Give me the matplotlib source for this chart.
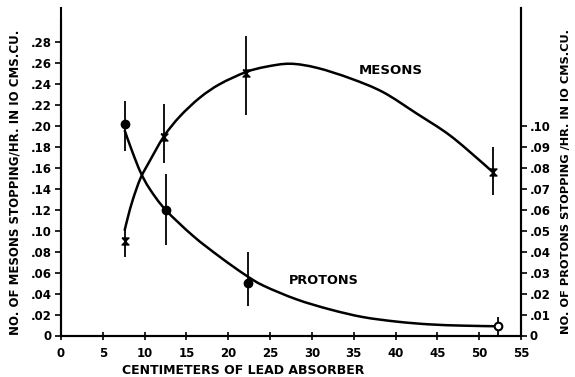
import matplotlib
matplotlib.use('Agg')
import matplotlib.pyplot as plt
from matplotlib.path import Path
from matplotlib.patches import PathPatch

plt.rcParams['font.family'] = ['DejaVu Sans']
plt.rcParams['font.weight'] = 'bold'

# measured points (mesons on left axis, protons on right axis)
meson_x = [7.7, 12.3, 22.1, 51.6]
meson_y = [0.090, 0.189, 0.251, 0.156]
meson_lo = [0.075, 0.1645, 0.210, 0.134]
meson_hi = [0.102, 0.221, 0.286, 0.180]

proton_x = [7.6, 12.5, 22.3, 52.3]
proton_y = [0.101, 0.060, 0.025, 0.0044]
proton_lo = [0.088, 0.043, 0.014, 0.0]
proton_hi = [0.112, 0.077, 0.040, 0.0087]

# hand drawn fitted curves
meson_curve_x = [7.6, 8.0, 8.6, 9.5, 10.5, 12.3, 14.2, 16.6, 19.0, 22.1, 24.5,
                 27.4, 30.6, 34.6, 38.5, 42.5, 46.5, 50.5, 51.6]
meson_curve_y = [0.100, 0.113, 0.130, 0.150, 0.165, 0.190, 0.209, 0.227, 0.240, 0.2514, 0.2565,
                 0.2594, 0.2555, 0.2454, 0.2323, 0.212, 0.191, 0.164, 0.156]

proton_curve_x = [7.6, 8.5, 9.5, 10.6, 12.5, 15.8, 19.0, 22.0, 24.2,
                  28.2, 32.2, 36.1, 40.2, 44.1, 48.1, 52.3]
proton_curve_y = [0.098, 0.088, 0.078, 0.070, 0.060, 0.0475, 0.0375, 0.0290, 0.0238,
                  0.0172, 0.0124, 0.0088, 0.0066, 0.0053, 0.0047, 0.0044]

x_ticks = list(range(0, 60, 5))
left_ticks = [i * 0.02 for i in range(15)]
left_labels = ['0'] + ['.%02d' % (2 * i) for i in range(1, 15)]
right_ticks = [i * 0.01 for i in range(11)]
right_labels = ['0'] + ['.%02d' % i for i in range(1, 11)]

hourglass = [(-1, 1), (1, 1), (-1, -1), (1, -1), (-1, 1)]


def smooth_path(xs, ys):
    # catmull-rom through the read points, drawn as bezier segments
    n = len(xs)
    verts = [(xs[0], ys[0])]
    codes = [Path.MOVETO]
    for i in range(n - 1):
        a = max(i - 1, 0)
        b = min(i + 2, n - 1)
        c1 = (xs[i] + (xs[i + 1] - xs[a]) / 6, ys[i] + (ys[i + 1] - ys[a]) / 6)
        c2 = (xs[i + 1] - (xs[b] - xs[i]) / 6, ys[i + 1] - (ys[b] - ys[i]) / 6)
        verts += [c1, c2, (xs[i + 1], ys[i + 1])]
        codes += [Path.CURVE4] * 3
    return Path(verts, codes)


fig = plt.figure(figsize=(5.75, 3.77), dpi=100)
ax = fig.add_axes([61 / 575, 41.5 / 377, 460 / 575, 327.5 / 377])
ax2 = ax.twinx()

ax.set_xlim(0, 55)
ax.set_ylim(0, 0.3126)
ax2.set_ylim(0, 0.1563)

# mesons
ax.add_patch(PathPatch(smooth_path(meson_curve_x, meson_curve_y), fill=False,
                       ec='black', lw=1.8))
ax.vlines(meson_x, meson_lo, meson_hi, color='black', lw=1.3)
ax.plot(meson_x, meson_y, ls='none', marker=hourglass, ms=5, color='black')

# protons
ax2.add_patch(PathPatch(smooth_path(proton_curve_x, proton_curve_y), fill=False,
                        ec='black', lw=1.8))
ax2.vlines(proton_x, proton_lo, proton_hi, color='black', lw=1.3)
ax2.plot(proton_x[:3], proton_y[:3], ls='none', marker='o', ms=6, color='black')
ax2.plot(proton_x[3:], proton_y[3:], ls='none', marker='o', ms=5.5, mfc='white',
         mec='black', mew=1.5)

ax.text(39.4, 0.253, 'MESONS', ha='center', va='center', fontsize=9.5, fontweight='bold')
ax2.text(31.4, 0.0263, 'PROTONS', ha='center', va='center', fontsize=9.3, fontweight='bold')

ax.spines['top'].set_visible(False)
ax2.spines['top'].set_visible(False)
for a in (ax, ax2):
    for s in a.spines.values():
        s.set_linewidth(1.5)
ax.spines['left'].set_bounds(0, 0.301)

ax.set_xticks(x_ticks)
ax.set_xticklabels([str(t) for t in x_ticks])
ax.set_yticks(left_ticks)
ax.set_yticklabels(left_labels)
ax2.set_yticks(right_ticks)
ax2.set_yticklabels(right_labels)

ax.tick_params(axis='x', direction='inout', length=6, width=1.2, pad=5, labelsize=8.5)
ax.tick_params(axis='y', direction='out', length=4, width=1.2, pad=2.5, labelsize=8.5)
ax2.tick_params(axis='y', direction='out', length=4, width=1.2, pad=2, labelsize=8.5)

ax.set_xlabel('CENTIMETERS OF LEAD ABSORBER', fontsize=9, fontweight='bold')
ax.xaxis.set_label_coords(0.396, -0.087)
ax.set_ylabel('NO. OF MESONS STOPPING/HR. IN IO CMS.CU.', fontsize=8.5, fontweight='bold')
ax.yaxis.set_label_coords(-0.085, 0.469)
ax2.set_ylabel('NO. OF PROTONS STOPPING /HR. IN IO CMS.CU.', fontsize=8.2, fontweight='bold',
               rotation=90)
ax2.yaxis.set_label_coords(1.088, 0.469)

fig.savefig('out.png', dpi=100)
